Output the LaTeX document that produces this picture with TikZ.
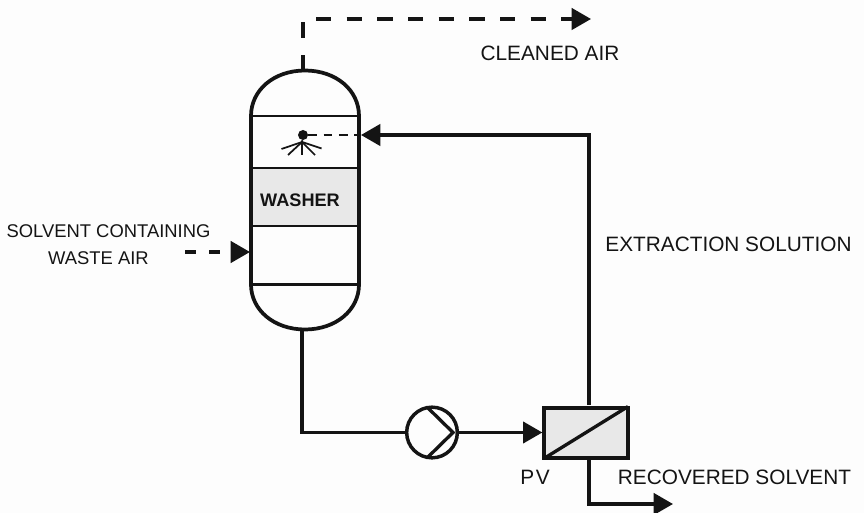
\documentclass[tikz,border=0pt]{standalone}
\usepackage{fontspec}
\setmainfont{Liberation Sans}
\usetikzlibrary{arrows.meta,calc}
\definecolor{ink}{HTML}{141414}
\definecolor{speck}{HTML}{E8E8E8}
\definecolor{paper}{HTML}{FDFDFD}
\tikzset{
  pipe/.style={draw=ink,line width=2.5pt,line cap=butt,line join=miter},
  headed/.style={-{Triangle[length=14.5pt,width=16pt,color=ink]}},
  wall/.style={draw=ink,line width=2.8pt},
  tray/.style={draw=ink,line width=1.9pt},
  tag/.style={font=\fontsize{15.6pt}{18.6pt}\selectfont,text=ink,inner sep=0pt,align=center},
  spray/.style={draw=ink,line width=1.3pt},
}
\begin{document}
\begin{tikzpicture}[x=0.75pt,y=-0.75pt]
\useasboundingbox (0,0) rectangle (864,513);
\fill[paper] (0,0) rectangle (864,513);
% packed section
\fill[speck] (251,168) rectangle (359,226);
% vessel
\draw[tray] (251,116) -- (359,116);
\draw[tray] (251,168) -- (359,168);
\draw[tray] (251,226) -- (359,226);
\draw[tray] (251,284.5) -- (359,284.5);
\draw[wall] (251,116) .. controls (251,90) and (274,70.5) .. (305,70.5)
  .. controls (336,70.5) and (359,90) .. (359,116) -- (359,284.5)
  .. controls (359,310) and (336,329.5) .. (305,329.5)
  .. controls (274,329.5) and (251,310) .. (251,284.5) -- cycle;
\node[tag,font=\fontsize{13.6pt}{16pt}\selectfont\bfseries] (washer) at (300,200.5) {WASHER};
% named points
\coordinate (vtop) at (303,70);
\coordinate (vbot) at (302,330);
\coordinate (vin) at (250,252);
\coordinate (vspray) at (361,135);
\coordinate (topstub) at (303,55);
\coordinate (topdash) at (303,38);
\coordinate (topdashend) at (303,22);
\coordinate (airstart) at (316,19);
\coordinate (airend) at (591,19);
\coordinate (feedstart) at (185,252);
\coordinate (corner1) at (302,432.5);
\coordinate (corner2) at (589,135);
\coordinate (pvtop) at (589,405);
\coordinate (pvbot) at (589,458);
\coordinate (corner3) at (589,504);
\coordinate (solvend) at (673,504);
% nozzle
\node[circle,fill=ink,inner sep=0pt,minimum size=7.5pt] (nozzle) at (303,135) {};
\coordinate (hub) at (302,142);
\draw[spray] (nozzle) -- (hub);
\draw[spray] (hub) -- (281.5,149);
\draw[spray] (hub) -- (288,155);
\draw[spray] (hub) -- (302,155);
\draw[spray] (hub) -- (315,155);
\draw[spray] (hub) -- (321.5,148.5);
\draw[draw=ink,line width=1.1pt,dash pattern=on 6.5pt off 5pt] (nozzle) -- (vspray);
% pump
\node[circle,draw=ink,line width=2.6pt,minimum size=38pt,inner sep=0pt] (pump) at (432,432.5) {};
\draw[pipe] (428,408) -- (453,432.5) -- (428,457);
% membrane
\node[draw=ink,line width=3pt,fill=speck,minimum width=62.5pt,minimum height=37.5pt,inner sep=0pt] (pv) at (586,432.5) {};
\draw[pipe,shorten >=1.5pt,shorten <=1.5pt] (pv.south west) -- (pv.north east);
% connectors
\draw[pipe] (vtop) -- (topstub);
\draw[pipe] (topdash) -- (topdashend);
\draw[pipe,headed,dash pattern=on 11.5pt off 11.5pt] (airstart) -- (airend);
\draw[pipe,headed,dash pattern=on 8.5pt off 9.5pt] (feedstart) -- (vin);
\draw[pipe,headed] (pvtop) -- (corner2) -- (vspray);
\draw[pipe] (vbot) -- (corner1) -- (pump.west);
\draw[pipe,headed] (pump.east) -- (pv.west);
\draw[pipe,headed] (pvbot) -- (corner3) -- (solvend);
% labels
\node[tag] (air) at (550,53) {CLEANED AIR};
\node[tag,font=\fontsize{13.8pt}{20pt}\selectfont] (waste) at (108.5,245) {SOLVENT CONTAINING\\WASTE AIR\kern 15pt\null};
\node[tag] (extr) at (728.5,244) {EXTRACTION SOLUTION};
\node[tag,font=\fontsize{15.6pt}{18.6pt}\selectfont\addfontfeature{LetterSpace=8}] (pvl) at (535,477) {PV};
\node[tag] (rec) at (734.5,477) {RECOVERED SOLVENT};
\end{tikzpicture}
\end{document}
